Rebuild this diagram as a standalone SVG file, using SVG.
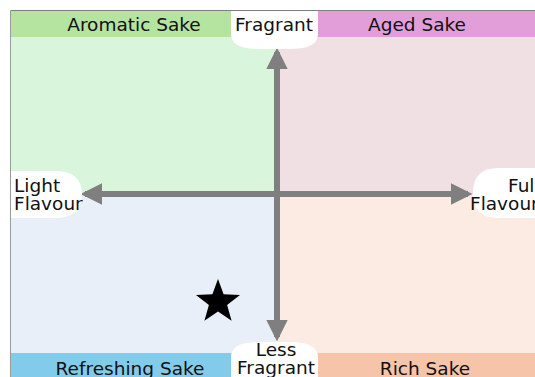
<svg xmlns="http://www.w3.org/2000/svg" width="535" height="377" viewBox="0 0 535 377">
<defs>
<style>
.t{font-family:"DejaVu Sans","Verdana",sans-serif;font-size:18.5px;fill:#111}
.ax{stroke:#7f7f7f;stroke-width:6;fill:none}
</style>
<marker id="ah" viewBox="0 0 10 10" refX="8" refY="5" markerWidth="3.6" markerHeight="3.6" orient="auto" markerUnits="strokeWidth">
<path d="M0,0 L10,5 L0,10 z" fill="#7f7f7f"/>
</marker>
</defs>
<rect width="535" height="377" fill="#ffffff"/>
<g id="quadrants">
<rect x="11" y="11" width="266" height="183" fill="#d9f5dc"/>
<rect x="277" y="11" width="258" height="183" fill="#f0e0e4"/>
<rect x="11" y="194" width="266" height="183" fill="#e8eff9"/>
<rect x="277" y="194" width="258" height="183" fill="#fbebe2"/>
</g>
<g id="aromatic">
<rect x="11" y="11" width="222" height="26" fill="#b5e4a1"/>
<text class="t" x="134" y="31" text-anchor="middle">Aromatic Sake</text>
</g>
<g id="aged">
<rect x="317" y="11" width="218" height="26" fill="#e29ed8"/>
<text class="t" x="417" y="31" text-anchor="middle">Aged Sake</text>
</g>
<g id="refreshing">
<rect x="11" y="353" width="222" height="24" fill="#82cbea"/>
<text class="t" x="130" y="375" text-anchor="middle">Refreshing Sake</text>
</g>
<g id="rich">
<rect x="317" y="353" width="218" height="24" fill="#f6c5a9"/>
<text class="t" x="425" y="375" text-anchor="middle">Rich Sake</text>
</g>
<line x1="10.5" y1="10.5" x2="535" y2="10.5" stroke="#7f7f7f" stroke-width="1"/>
<line x1="10.5" y1="10.5" x2="10.5" y2="377" stroke="#9a9a9a" stroke-width="1"/>
<g id="connectors">
<line class="ax" x1="277" y1="194" x2="277" y2="52" marker-end="url(#ah)"/>
<line class="ax" x1="277" y1="194" x2="277" y2="337" marker-end="url(#ah)"/>
<line class="ax" x1="277" y1="194" x2="85" y2="194" marker-end="url(#ah)"/>
<line class="ax" x1="277" y1="194" x2="468" y2="194" marker-end="url(#ah)"/>
</g>
<g id="fragrant">
<path d="M231,11 H318 V34 Q318,49 290,49 H259 Q231,49 231,34 Z" fill="#ffffff"/>
<text class="t" x="274" y="31" text-anchor="middle">Fragrant</text>
</g>
<g id="less-fragrant">
<path d="M231,377 V357 Q231,342 259,342 H290 Q318,342 318,357 V377 Z" fill="#ffffff"/>
<text class="t" x="276" y="356" text-anchor="middle">Less</text>
<text class="t" x="276" y="374" text-anchor="middle">Fragrant</text>
</g>
<g id="light-flavour">
<path d="M11,171 H55 Q82,171 82,194.5 Q82,218 55,218 H11 Z" fill="#ffffff"/>
<text class="t" x="14" y="192">Light</text>
<text class="t" x="14" y="210">Flavour</text>
</g>
<g id="full-flavour">
<path d="M535,168 H498 Q473,168 473,193 Q473,218 498,218 H535 Z" fill="#ffffff"/>
<text class="t" x="508" y="192">Full</text>
<text class="t" x="470" y="210">Flavour</text>
</g>
<g id="star">
<polygon points="218,279 223.6,294.3 240,294.9 227.1,305 231.6,320.7 218,311.5 204.4,320.7 208.9,305 196,294.9 212.4,294.3" fill="#000000"/>
</g>
</svg>
